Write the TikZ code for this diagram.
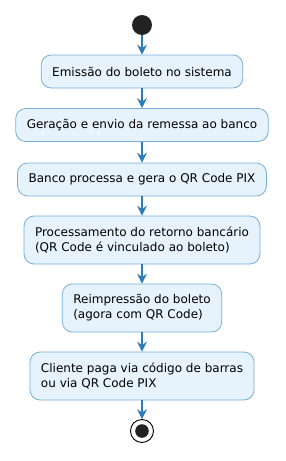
\documentclass[tikz,border=0pt]{standalone}
\usepackage{fontspec}
\setmainfont{DejaVu Sans}
\usetikzlibrary{arrows.meta}
\definecolor{flowblue}{RGB}{43,125,185}
\definecolor{boxline}{RGB}{118,174,216}
\definecolor{boxfill}{RGB}{230,243,253}
\definecolor{dotgray}{RGB}{34,34,34}
\tikzset{
  actbox/.style={draw=boxline,fill=boxfill,line width=.8pt,rounded corners=10pt,
    align=left,inner xsep=11pt,inner ysep=0pt,minimum height=33pt,
    font=\fontsize{12}{15}\selectfont},
  twoline/.style={minimum height=48pt},
  flow/.style={draw=flowblue,line width=1.1pt,
    -{Stealth[length=10pt,width=10pt,inset=3.5pt]}},
}

\begin{document}
\begin{tikzpicture}[x=1pt,y=-1pt]
    \useasboundingbox (0,0) rectangle (285,461);
    % start and end
    \node[circle,fill=dotgray,minimum size=20pt,inner sep=0pt] (start) at (142,25) {};
    \node[circle,draw=black,line width=.9pt,minimum size=23pt,inner sep=0pt] (stop) at (142,431) {};
    \fill[dotgray] (stop.center) circle (6.8);
    % activities
    \node[actbox] (emissao) at (142,71.5) {Emissão do boleto no sistema};
    \node[actbox] (remessa) at (142,125) {Geração e envio da remessa ao banco};
    \node[actbox] (banco) at (142,179.5) {Banco processa e gera o QR Code PIX};
    \node[actbox,twoline] (retorno) at (142,240) {Processamento do retorno bancário\\(QR Code é vinculado ao boleto)};
    \node[actbox,twoline] (reimpr) at (142,308) {Reimpressão do boleto\\(agora com QR Code)};
    \node[actbox,twoline] (paga) at (142,376) {Cliente paga via código de barras\\ou via QR Code PIX};
    % flow
    \draw[flow] (start) -- (emissao);
    \draw[flow] (emissao) -- (remessa);
    \draw[flow] (remessa) -- (banco);
    \draw[flow] (banco) -- (retorno);
    \draw[flow] (retorno) -- (reimpr);
    \draw[flow] (reimpr) -- (paga);
    \draw[flow] (paga) -- (stop);
\end{tikzpicture}
\end{document}
